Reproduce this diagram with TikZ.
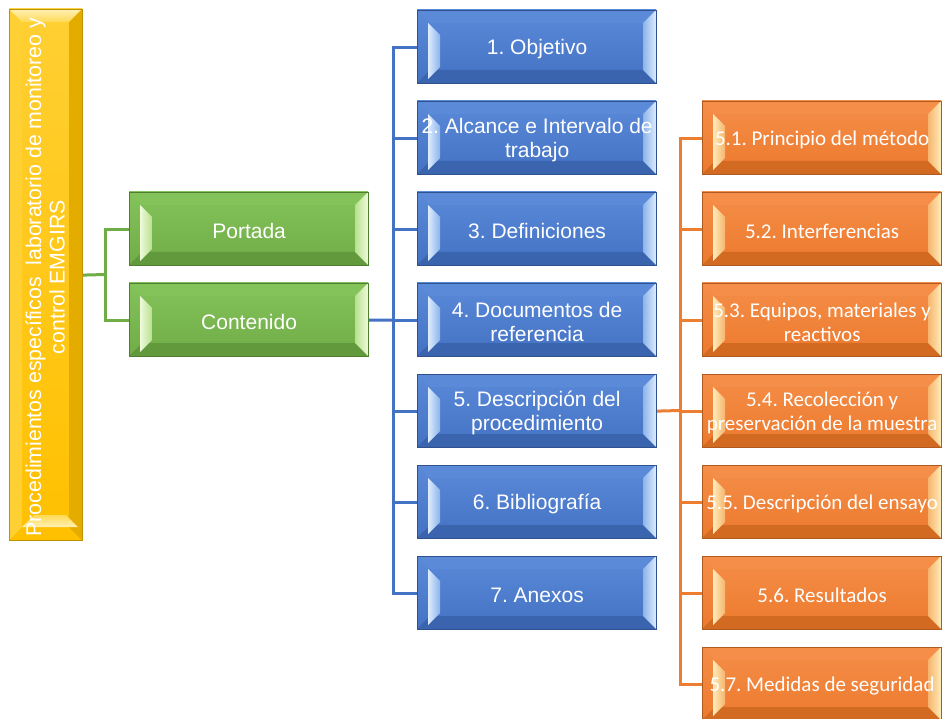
\documentclass[tikz,border=0pt]{standalone}
\usepackage{fontspec}
\setmainfont{Liberation Sans}
\newfontfamily\calibri{Carlito}
\frenchspacing

% colour families: base, upper tint, lower face, outline, bevel light, bevel highlight
\definecolor{bluebase}{HTML}{4472C4}
\definecolor{bluehi}{HTML}{5B8AD9}
\definecolor{bluedark}{HTML}{3A64AE}
\definecolor{blueedge}{HTML}{2F528F}
\definecolor{bluelight}{HTML}{8DB4E8}
\definecolor{bluepale}{HTML}{DDECFF}
\definecolor{greenbase}{HTML}{70AD47}
\definecolor{greenhi}{HTML}{84C25A}
\definecolor{greendark}{HTML}{62993D}
\definecolor{greenedge}{HTML}{4E7F30}
\definecolor{greenlight}{HTML}{B9E08F}
\definecolor{greenpale}{HTML}{EEFADB}
\definecolor{orangebase}{HTML}{EC7A2E}
\definecolor{orangehi}{HTML}{F58E48}
\definecolor{orangedark}{HTML}{D36A22}
\definecolor{orangeedge}{HTML}{AE5A21}
\definecolor{orangelight}{HTML}{F5B56E}
\definecolor{orangepale}{HTML}{FFEBB8}
\definecolor{yellowbase}{HTML}{FFC000}
\definecolor{yellowhi}{HTML}{FFD033}
\definecolor{yellowdark}{HTML}{E5AC00}
\definecolor{yellowedge}{HTML}{BF9000}
\definecolor{yellowlight}{HTML}{FFDA55}
\definecolor{yellowpale}{HTML}{FFF0B5}
\definecolor{blueline}{HTML}{4472C4}
\definecolor{greenline}{HTML}{70AD47}
\definecolor{orangeline}{HTML}{ED7D31}

\tikzset{
  bluetxt/.style={font=\fontsize{21}{23.5}\selectfont},
  greentxt/.style={font=\fontsize{21}{23.5}\selectfont},
  orangetxt/.style={font=\calibri\fontsize{21}{23.5}\selectfont},
  link/.style={line width=3pt}
}

% bevelled box: #1 name, #2 left, #3 top, #4 colour family, #5 text
\newcommand\bevelbox[5]{%
  \begin{scope}[shift={(#2,#3)}]
    \shade[top color=#4hi, bottom color=#4base] (0,0) rectangle (239,73);
    \fill[#4hi] (0,0) -- (239,0) -- (226,13) -- (13,13) -- cycle;
    \fill[#4dark] (0,73) -- (239,73) -- (226,60) -- (13,60) -- cycle;
    \shade[left color=#4light, right color=#4pale] (239,0) -- (239,73) -- (226,60) -- (226,13) -- cycle;
    \shade[left color=#4pale, right color=#4light] (11,13) -- (11,69) -- (23,57) -- (23,25) -- cycle;
    \node[draw=#4edge, line width=1.2pt, minimum width=239pt, minimum height=73pt,
          inner sep=0pt, anchor=north west] (#1) at (0,0) {};
  \end{scope}
  \node[text=white, align=center, inner sep=0pt, #4txt] (#1t) at ([yshift=-2pt]#1.center) {#5};}

\begin{document}
\begin{tikzpicture}[x=1pt,y=-1pt]
\useasboundingbox (0,0) rectangle (942,719);

% title box, standing upright
\begin{scope}[shift={(9,9)}]
  \shade[top color=yellowhi, bottom color=yellowbase] (0,0) rectangle (73,531);
  \fill[yellowhi] (0,0) -- (0,531) -- (13,518) -- (13,13) -- cycle;
  \fill[yellowdark] (73,0) -- (73,531) -- (60,518) -- (60,13) -- cycle;
  \shade[top color=yellowpale, bottom color=yellowlight] (0,0) -- (73,0) -- (60,13) -- (13,13) -- cycle;
  \shade[top color=yellowlight, bottom color=yellowpale] (13,518) -- (69,518) -- (57,506) -- (25,506) -- cycle;
  \node[draw=yellowedge, line width=1.2pt, minimum width=73pt, minimum height=531pt,
        inner sep=0pt, anchor=north west] (Y) at (0,0) {};
\end{scope}
\node[rotate=90, text=white, align=center, font=\fontsize{21.3}{23.5}\selectfont]
  (Ytext) at ([xshift=-1pt,yshift=-2pt]Y.center) {Procedimientos específicos~ laboratorio de monitoreo y\\control EMGIRS};

% second level
\bevelbox{portada}{129}{192}{green}{Portada}
\bevelbox{contenido}{129}{283}{green}{Contenido}

% sections
\bevelbox{b1}{417}{10}{blue}{1. Objetivo}
\bevelbox{b2}{417}{101}{blue}{2. Alcance e Intervalo de\\trabajo}
\bevelbox{b3}{417}{192}{blue}{3. Definiciones}
\bevelbox{b4}{417}{283}{blue}{4. Documentos de\\referencia}
\bevelbox{b5}{417}{374}{blue}{5. Descripción del\\procedimiento}
\bevelbox{b6}{417}{465}{blue}{6. Bibliografía}
\bevelbox{b7}{417}{556}{blue}{7. Anexos}

% subsections of section 5
\bevelbox{o1}{702}{101}{orange}{5.1. Principio del método}
\bevelbox{o2}{702}{192}{orange}{5.2. Interferencias}
\bevelbox{o3}{702}{283}{orange}{5.3. Equipos, materiales y\\reactivos}
\bevelbox{o4}{702}{374}{orange}{5.4. Recolección y\\preservación de la muestra}
\bevelbox{o5}{702}{465}{orange}{5.5. Descripción del ensayo}
\bevelbox{o6}{702}{556}{orange}{5.6. Resultados}
\bevelbox{o7}{702}{647}{orange}{5.7. Medidas de seguridad}

% junction points of the connectors
\coordinate (gj) at (105,274.5);
\coordinate (bj) at (393,320);
\coordinate (oj) at (680,410.5);

% connectors
\draw[link, greenline] (Y.east) -- (gj);
\draw[link, greenline] (portada.west) -| (gj) |- (contenido.west);

\draw[link, blueline] (contenido.east) -- (bj);
\draw[link, blueline] (b1.west) -| (bj) |- (b7.west);
\foreach \n in {b2,b3,b4,b5,b6} \draw[link, blueline] (bj |- \n.west) -- (\n.west);

\draw[link, orangeline] (b5.east) -- (oj);
\draw[link, orangeline] (o1.west) -| (oj) |- (o7.west);
\foreach \n in {o2,o3,o4,o5,o6} \draw[link, orangeline] (oj |- \n.west) -- (\n.west);
\end{tikzpicture}
\end{document}
